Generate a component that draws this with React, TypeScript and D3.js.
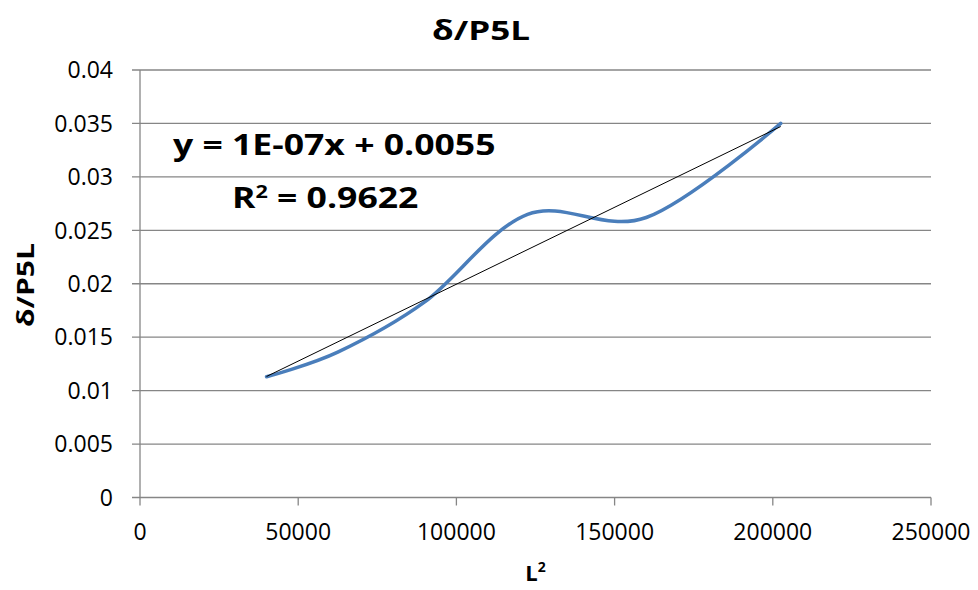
import React from "react";
import * as d3 from "d3";

const xValues = [40000, 62500, 90000, 122500, 160000, 202500];
const yValues = [0.0113, 0.0136, 0.0183, 0.0265, 0.0262, 0.035];
const xTicks = [0, 50000, 100000, 150000, 200000, 250000];
const yTicks = [0, 0.005, 0.01, 0.015, 0.02, 0.025, 0.03, 0.035, 0.04];
const yTickLabels = ["0", "0.005", "0.01", "0.015", "0.02", "0.025", "0.03", "0.035", "0.04"];
const title = "δ/P5L";
const xTitle = "L";
const equation = "y = 1E-07x + 0.0055";
const rSquared = "0.9622";

const W = 978;
const H = 590;
const left = 140;
const right = 931;
const top = 70;
const bottom = 497.5;
const FONT = "'Open Sans', 'Noto Sans', sans-serif";

export default function App() {
  const x = d3.scaleLinear().domain([0, 250000]).range([left, right]);
  const y = d3.scaleLinear().domain([0, 0.04]).range([bottom, top]);
  const pts: [number, number][] = xValues.map((v, i) => [v, yValues[i]]);
  const line = d3
    .line<[number, number]>()
    .x((d) => x(d[0]))
    .y((d) => y(d[1]))
    .curve(d3.curveCatmullRom.alpha(0));

  // linear regression from the data
  const mx = d3.mean(xValues)!;
  const my = d3.mean(yValues)!;
  const sxy = d3.sum(xValues.map((v, i) => (v - mx) * (yValues[i] - my)));
  const sxx = d3.sum(xValues.map((v) => (v - mx) * (v - mx)));
  const slope = sxy / sxx;
  const icpt = my - slope * mx;
  const x0 = xValues[0];
  const x1 = xValues[xValues.length - 1];

  return (
    <svg
      width={W}
      height={H}
      style={{ position: "absolute", left: 0, top: 0, background: "#fff" }}
    >
      <rect x={0} y={0} width={W} height={H} fill="#fff" />
      {/* gridlines */}
      {yTicks.map((t, i) => (
        <line
          key={"g" + i}
          x1={left - 8}
          x2={right}
          y1={y(t)}
          y2={y(t)}
          stroke="#868686"
          strokeWidth={1.3}
        />
      ))}
      {/* y axis */}
      <line x1={left} x2={left} y1={top} y2={bottom} stroke="#868686" strokeWidth={1.3} />
      {/* x ticks */}
      {xTicks.map((t, i) => (
        <line
          key={"xt" + i}
          x1={x(t)}
          x2={x(t)}
          y1={bottom}
          y2={bottom + 8}
          stroke="#868686"
          strokeWidth={1.3}
        />
      ))}
      {/* y tick labels */}
      {yTicks.map((t, i) => (
        <text
          key={"yl" + i}
          x={113}
          y={y(t)}
          dy="0.36em"
          textAnchor="end"
          fontFamily={FONT}
          fontSize={23}
          fill="#000"
        >
          {yTickLabels[i]}
        </text>
      ))}
      {/* x tick labels */}
      {xTicks.map((t, i) => (
        <text
          key={"xl" + i}
          x={x(t)}
          y={540}
          textAnchor="middle"
          fontFamily={FONT}
          fontSize={23}
          fill="#000"
        >
          {String(t)}
        </text>
      ))}
      {/* data curve */}
      <path d={line(pts) || ""} fill="none" stroke="#4a7ebb" strokeWidth={3.5} strokeLinecap="round" />
      {/* trendline */}
      <line
        x1={x(x0)}
        x2={x(x1)}
        y1={y(icpt + slope * x0)}
        y2={y(icpt + slope * x1)}
        stroke="#000"
        strokeWidth={1}
      />
      {/* title */}
      <text
        x={481}
        y={40}
        textAnchor="middle"
        fontFamily={FONT}
        fontWeight="bold"
        fontSize={26}
        textLength={98}
        lengthAdjust="spacingAndGlyphs"
      >
        {title}
      </text>
      {/* equation */}
      <g transform="translate(173,155) scale(1.27,1)">
        <text x={0} y={0} fontFamily={FONT} fontWeight="bold" fontSize={28}>
          {equation}
        </text>
      </g>
      <g transform="translate(232,208) scale(1.27,1)">
        <text x={0} y={0} fontFamily={FONT} fontWeight="bold" fontSize={28}>
          R<tspan dy="-10" fontSize={17}>2</tspan>
          <tspan dy="10">{" = " + rSquared}</tspan>
        </text>
      </g>
      {/* axis titles */}
      <text x={(left + right) / 2} y={581} textAnchor="middle" fontFamily={FONT} fontWeight="bold" fontSize={22}>
        {xTitle}
        <tspan dy="-9" fontSize={14}>2</tspan>
      </text>
      <text
        transform="translate(34,285) rotate(-90)"
        textAnchor="middle"
        fontFamily={FONT}
        fontWeight="bold"
        fontSize={24}
        textLength={84}
        lengthAdjust="spacingAndGlyphs"
      >
        {title}
      </text>
    </svg>
  );
}
